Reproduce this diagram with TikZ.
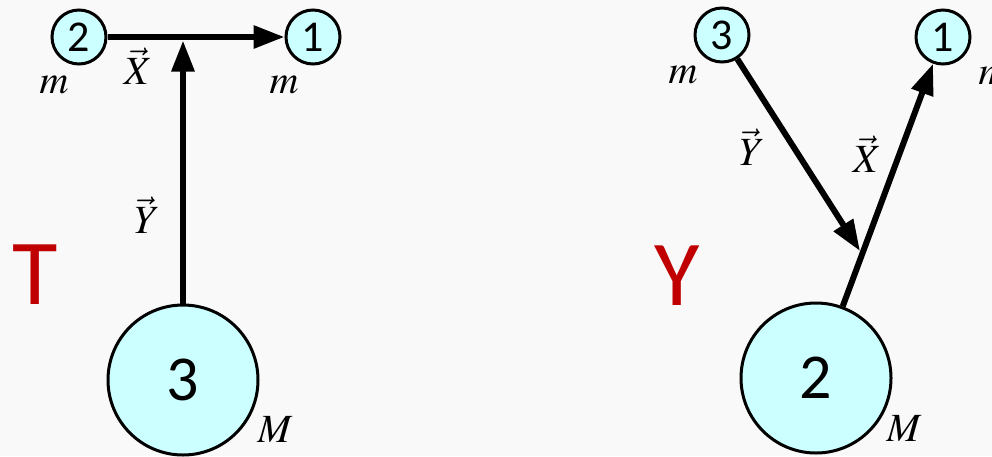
\documentclass[tikz,border=0pt]{standalone}
\usepackage{mathptmx}
\usepackage{fontspec}
\newfontfamily\carl{Carlito}
\usetikzlibrary{arrows.meta}
\definecolor{bgc}{HTML}{F9F9F9}
\definecolor{cyanfill}{HTML}{CCFFFF}
\definecolor{redc}{HTML}{C00000}
\tikzset{
  smallball/.style={circle, draw, line width=3pt, fill=cyanfill, minimum size=54pt, inner sep=0pt, font=\carl\fontsize{44}{44}\selectfont},
  bigball/.style={circle, draw, line width=3pt, fill=cyanfill, minimum size=150pt, inner sep=0pt, font=\carl\fontsize{64}{64}\selectfont},
  lbl/.style={inner sep=0pt, font=\fontsize{40}{44}\selectfont},
  conn/.style={line width=6pt, -{Triangle[length=31pt,width=22pt]}},
  redl/.style={text=redc, inner sep=0pt, font=\carl\fontsize{93}{93}\selectfont}
}
\begin{document}
\begin{tikzpicture}[x=1pt,y=-1pt]
\fill[bgc] (0,0) rectangle (992,456);
\useasboundingbox (0,0) rectangle (992,456);
\clip (0,0) rectangle (992,456);
% ---- T configuration ----
\node[smallball] (tl2) at (79,37) {2};
\node[smallball] (tl1) at (313,37) {1};
\node[bigball] (tl3) at (183,380) {3};
\coordinate (j1) at (183,40.5);
\draw[conn] (tl2) -- (tl1);
\draw[conn] (tl3) -- (j1);
\node[lbl] (tm1) at (54,85) {$m$};
\node[lbl] (tm2) at (284,85) {$m$};
\node[lbl] (tX) at (138,66) {$\vec{X}$};
\node[lbl] (tY) at (147,215) {$\vec{Y}$};
\node[lbl] (tM) at (275,430) {$M$};
\node[redl] (tT) at (35,275) {T};
% ---- Y configuration ----
\node[smallball] (yr3) at (722,35) {3};
\node[smallball] (yr1) at (943,37) {1};
\node[bigball] (yr2) at (816,378) {2};
\coordinate (j2) at (860,251);
\draw[conn] (yr2) -- (yr1);
\draw[conn] (yr3) -- (j2);
\node[lbl] (ym1) at (683,75) {$m$};
\node[lbl] (ym2) at (993,76) {$m$};
\node[lbl] (yX) at (867,154) {$\vec{X}$};
\node[lbl] (yY) at (752,147) {$\vec{Y}$};
\node[lbl] (yM) at (904,429) {$M$};
\node[redl] (yYr) at (677,276) {Y};
\end{tikzpicture}
\end{document}
